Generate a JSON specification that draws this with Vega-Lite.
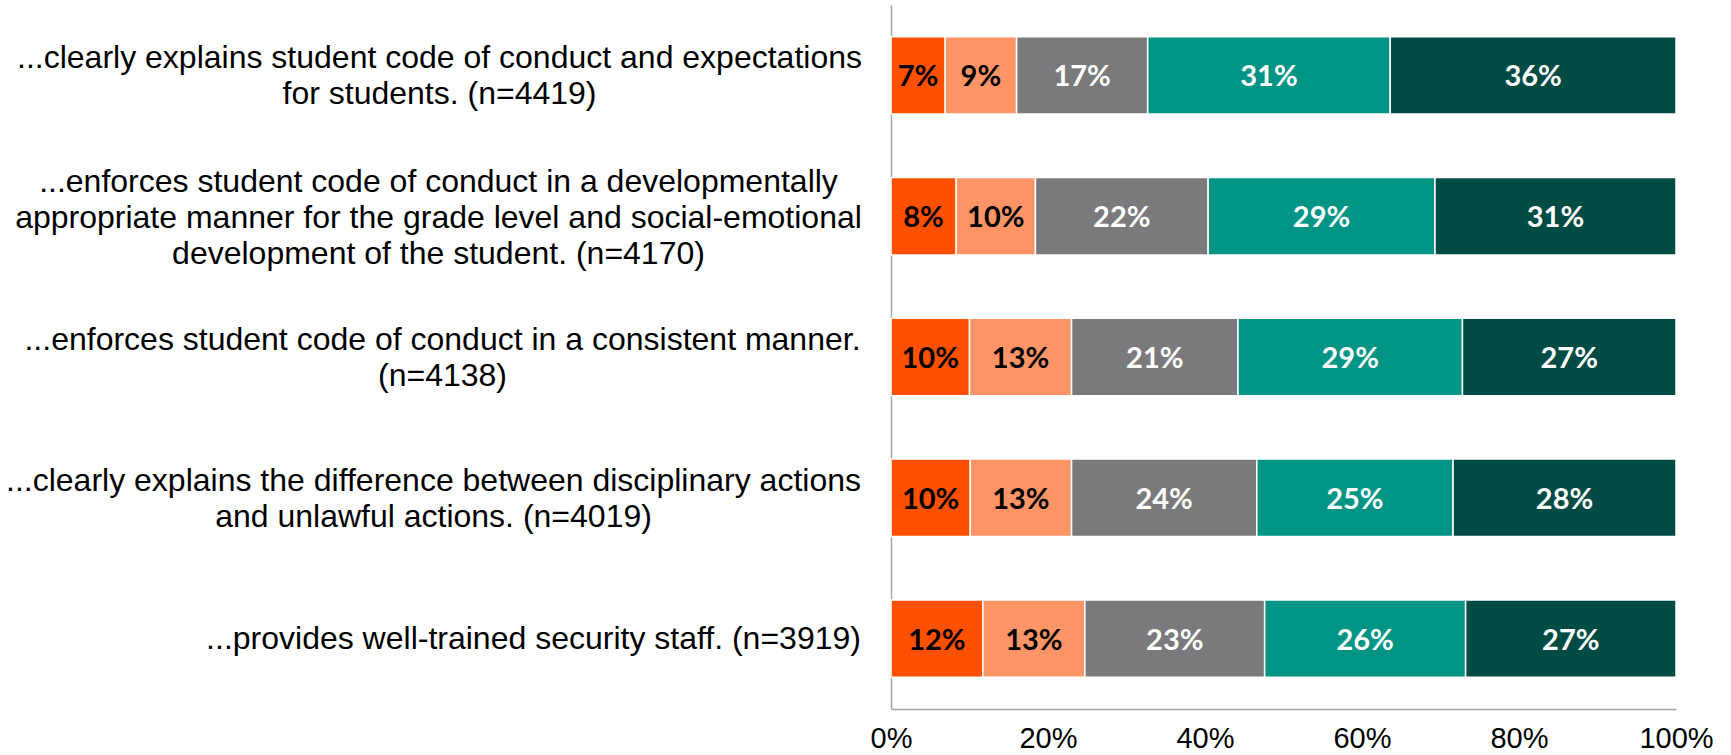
{
  "$schema": "https://vega.github.io/schema/vega-lite/v6.json",
  "width": 785,
  "height": 704,
  "autosize": "none",
  "padding": {"left": 891, "top": 5, "right": 55, "bottom": 46},
  "background": "white",
  "config": {"view": {"stroke": null}},
  "data": {
    "values": [
      {"item": "...clearly explains student code of conduct and expectations|for students. (n=4419)", "resp": "Strongly disagree", "order": 1, "value": 0.069},
      {"item": "...clearly explains student code of conduct and expectations|for students. (n=4419)", "resp": "Disagree", "order": 2, "value": 0.091},
      {"item": "...clearly explains student code of conduct and expectations|for students. (n=4419)", "resp": "Neutral", "order": 3, "value": 0.167},
      {"item": "...clearly explains student code of conduct and expectations|for students. (n=4419)", "resp": "Agree", "order": 4, "value": 0.309},
      {"item": "...clearly explains student code of conduct and expectations|for students. (n=4419)", "resp": "Strongly agree", "order": 5, "value": 0.364},
      {"item": "...enforces student code of conduct in a developmentally|appropriate manner for the grade level and social-emotional|development of the student. (n=4170)", "resp": "Strongly disagree", "order": 1, "value": 0.083},
      {"item": "...enforces student code of conduct in a developmentally|appropriate manner for the grade level and social-emotional|development of the student. (n=4170)", "resp": "Disagree", "order": 2, "value": 0.101},
      {"item": "...enforces student code of conduct in a developmentally|appropriate manner for the grade level and social-emotional|development of the student. (n=4170)", "resp": "Neutral", "order": 3, "value": 0.220},
      {"item": "...enforces student code of conduct in a developmentally|appropriate manner for the grade level and social-emotional|development of the student. (n=4170)", "resp": "Agree", "order": 4, "value": 0.289},
      {"item": "...enforces student code of conduct in a developmentally|appropriate manner for the grade level and social-emotional|development of the student. (n=4170)", "resp": "Strongly agree", "order": 5, "value": 0.307},
      {"item": "...enforces student code of conduct in a consistent manner.|(n=4138)", "resp": "Strongly disagree", "order": 1, "value": 0.100},
      {"item": "...enforces student code of conduct in a consistent manner.|(n=4138)", "resp": "Disagree", "order": 2, "value": 0.130},
      {"item": "...enforces student code of conduct in a consistent manner.|(n=4138)", "resp": "Neutral", "order": 3, "value": 0.212},
      {"item": "...enforces student code of conduct in a consistent manner.|(n=4138)", "resp": "Agree", "order": 4, "value": 0.286},
      {"item": "...enforces student code of conduct in a consistent manner.|(n=4138)", "resp": "Strongly agree", "order": 5, "value": 0.272},
      {"item": "...clearly explains the difference between disciplinary actions|and unlawful actions. (n=4019)", "resp": "Strongly disagree", "order": 1, "value": 0.101},
      {"item": "...clearly explains the difference between disciplinary actions|and unlawful actions. (n=4019)", "resp": "Disagree", "order": 2, "value": 0.129},
      {"item": "...clearly explains the difference between disciplinary actions|and unlawful actions. (n=4019)", "resp": "Neutral", "order": 3, "value": 0.236},
      {"item": "...clearly explains the difference between disciplinary actions|and unlawful actions. (n=4019)", "resp": "Agree", "order": 4, "value": 0.250},
      {"item": "...clearly explains the difference between disciplinary actions|and unlawful actions. (n=4019)", "resp": "Strongly agree", "order": 5, "value": 0.284},
      {"item": "...provides well-trained security staff. (n=3919)", "resp": "Strongly disagree", "order": 1, "value": 0.117},
      {"item": "...provides well-trained security staff. (n=3919)", "resp": "Disagree", "order": 2, "value": 0.130},
      {"item": "...provides well-trained security staff. (n=3919)", "resp": "Neutral", "order": 3, "value": 0.229},
      {"item": "...provides well-trained security staff. (n=3919)", "resp": "Agree", "order": 4, "value": 0.256},
      {"item": "...provides well-trained security staff. (n=3919)", "resp": "Strongly agree", "order": 5, "value": 0.268}
    ]
  },
  "transform": [
    {"stack": "value", "groupby": ["item"], "sort": [{"field": "order", "order": "ascending"}], "as": ["x0", "x1"]}
  ],
  "encoding": {
    "y": {
      "field": "item",
      "type": "nominal",
      "sort": null,
      "title": null,
      "scale": {"paddingInner": 0.45, "paddingOuter": 0.225},
      "axis": {
        "ticks": false,
        "tickSize": 0,
        "domain": true,
        "domainColor": "#A6A6A6",
        "domainWidth": 1.5,
        "labelExpr": "split(datum.value, '|')",
        "labelFont": "Liberation Sans",
        "labelFontSize": 32,
        "labelLineHeight": 36,
        "labelColor": "#000000",
        "labelAlign": "center",
        "labelBaseline": "middle",
        "labelLimit": 1000,
        "labelOffset": {
          "condition": [
            {"test": "indexof(datum.value, 'developmentally') >= 0", "value": -34},
            {"test": "indexof(datum.value, '|') >= 0", "value": -17}
          ],
          "value": 0
        },
        "labelPadding": {
          "condition": [
            {"test": "indexof(datum.value, 'provides') >= 0", "value": 358},
            {"test": "indexof(datum.value, 'difference') >= 0", "value": 458},
            {"test": "indexof(datum.value, 'consistent') >= 0", "value": 449},
            {"test": "indexof(datum.value, 'developmentally') >= 0", "value": 453}
          ],
          "value": 452
        }
      }
    }
  },
  "layer": [
    {
      "mark": {"type": "bar", "stroke": "white", "strokeWidth": 1.5},
      "encoding": {
        "x": {
          "field": "x0",
          "type": "quantitative",
          "scale": {"domain": [0, 1], "nice": false},
          "title": null,
          "axis": {
            "values": [0, 0.2, 0.4, 0.6, 0.8, 1],
            "format": ".0%",
            "grid": false,
            "ticks": false,
            "domain": true,
            "domainColor": "#A6A6A6",
            "domainWidth": 1.5,
            "labelFont": "Liberation Sans",
            "labelFontSize": 29,
            "labelColor": "#000000",
            "labelPadding": 15,
            "labelFlush": false
          }
        },
        "x2": {"field": "x1"},
        "color": {
          "field": "resp",
          "type": "nominal",
          "sort": ["Strongly disagree", "Disagree", "Neutral", "Agree", "Strongly agree"],
          "scale": {
            "domain": ["Strongly disagree", "Disagree", "Neutral", "Agree", "Strongly agree"],
            "range": ["#FF5000", "#FF9466", "#7A7A7C", "#009485", "#004B44"]
          },
          "legend": null
        }
      }
    },
    {
      "mark": {
        "type": "text",
        "font": "Lato",
        "fontWeight": "bold",
        "fontSize": 29,
        "baseline": "middle",
        "align": "center",
        "dy": 2,
        "dx": {"expr": "(scale('x', datum.x1) - scale('x', datum.x0)) / 2"}
      },
      "encoding": {
        "x": {"field": "x0", "type": "quantitative"},
        "text": {"field": "value", "type": "quantitative", "format": ".0%"},
        "color": {
          "condition": {"test": "datum.order <= 2", "value": "#000000"},
          "value": "#FFFFFF"
        }
      }
    }
  ]
}
